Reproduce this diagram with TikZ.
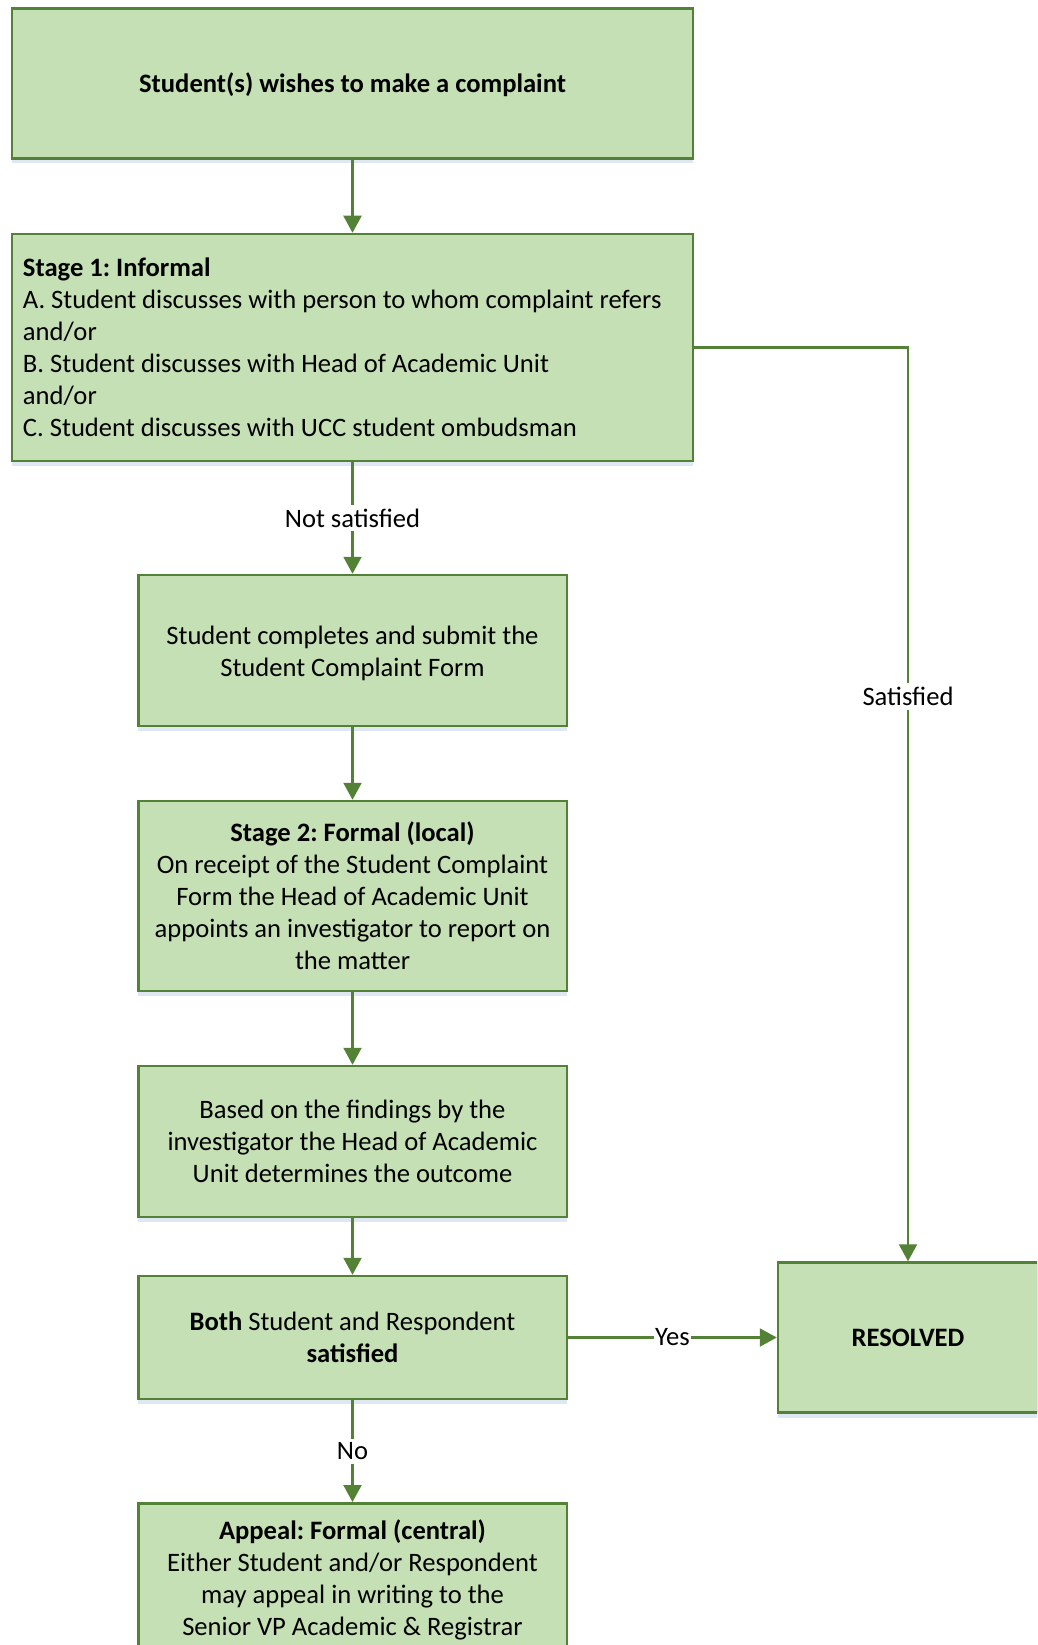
\documentclass[tikz,border=0pt]{standalone}
\usepackage{fontspec}
\setmainfont{Carlito}
\usetikzlibrary{arrows.meta,shadows}
\definecolor{boxfill}{HTML}{C5E0B4}
\definecolor{boxline}{HTML}{538135}
\definecolor{shadowc}{HTML}{C9D6EC}
\frenchspacing
\begin{document}
\begin{tikzpicture}[x=1pt,y=-1pt,
  txt/.style={font=\fontsize{26.6}{32}\selectfont\frenchspacing},
  box/.style={txt, draw=boxline, line width=2.5pt, fill=boxfill, inner sep=0pt,
    align=center,
    drop shadow={shadow xshift=0pt, shadow yshift=-5pt, fill=shadowc, opacity=0.6}},
  widebox/.style={box, minimum width=681pt},
  narrowbox/.style={box, minimum width=428.5pt},
  arr/.style={draw=boxline, line width=2.2pt, -{Triangle[length=17pt,width=18pt]}},
  lbl/.style={txt, fill=white, inner xsep=1pt, inner ysep=4pt}
]
\useasboundingbox (0,0) rectangle (1037,1645);
\clip (0,0) rectangle (1037,1645);

\node[widebox, minimum height=150pt, text height=24pt, text depth=5pt] (b1) at (352.5,83.5)
  {\textbf{Student(s) wishes to make a complaint}};

\node[widebox, minimum height=227pt, inner xsep=11pt, text width=659pt, align=flush left] (s1) at (352.5,347.5)
  {\textbf{Stage 1: Informal}\\
   A. Student discusses with person to whom complaint refers\\
   and/or\\
   B. Student discusses with Head of Academic Unit\\
   and/or\\
   C. Student discusses with UCC student ombudsman};

\node[narrowbox, minimum height=151pt] (b3) at (352.5,650.5)
  {\rule{0pt}{25pt}Student completes and submit the\\Student Complaint Form};

\node[narrowbox, minimum height=190pt] (b4) at (352.5,896)
  {\textbf{Stage 2: Formal (local)}\\
   On receipt of the Student Complaint\\
   Form the Head of Academic Unit\\
   appoints an investigator to report on\\
   the matter};

\node[narrowbox, minimum height=151pt] (b5) at (352.5,1141.5)
  {Based on the findings by the\\
   investigator the Head of Academic\\
   Unit determines the outcome};

\node[narrowbox, minimum height=123pt] (b6) at (352.5,1337.5)
  {\textbf{Both} Student and Respondent\\\textbf{satisfied}};

\node[box, minimum width=260pt, minimum height=150pt] (res) at (908,1337.5)
  {\textbf{RESOLVED}};

\node[narrowbox, minimum height=220pt, anchor=north] (b7) at (352.5,1502) {};
\node[txt, align=center, anchor=north, inner sep=0pt] (b7t) at ([yshift=-18pt]b7.north)
  {\textbf{Appeal: Formal (central)}\\
   Either Student and/or Respondent\\
   may appeal in writing to the\\
   Senior VP Academic \& Registrar};

\draw[arr] (b1) -- (s1);
\draw[arr] (s1) -- node[lbl] {Not satisfied} (b3);
\draw[arr] (s1.east) -| node[lbl, pos=0.691] {Satisfied} (res.north);
\draw[arr] (b3) -- (b4);
\draw[arr] (b4) -- (b5);
\draw[arr] (b5) -- (b6);
\draw[arr] (b6) -- node[lbl, inner ysep=1pt] {Yes} (res);
\draw[arr] (b6) -- node[lbl] {No} (b7);
\end{tikzpicture}
\end{document}
